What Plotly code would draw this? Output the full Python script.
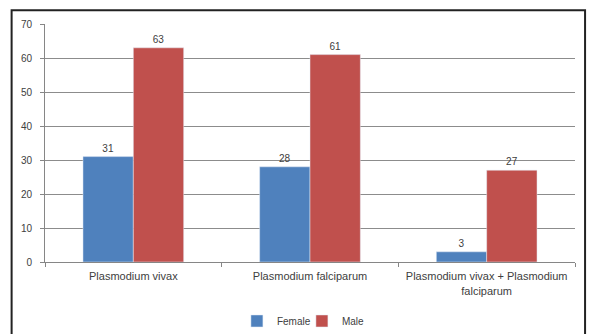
import plotly.graph_objects as go

categories = ["Plasmodium vivax", "Plasmodium falciparum", "Plasmodium vivax + Plasmodium<br>falciparum"]
female = [31, 28, 3]
male = [63, 61, 27]
y_ticks = [0, 10, 20, 30, 40, 50, 60, 70]

font = dict(family="Liberation Sans, Arial, sans-serif", size=10, color="#404040")

fig = go.Figure()
fig.add_trace(go.Bar(name="Female", x=categories, y=female, marker_color="#4F81BD",
                     text=female, textposition="outside", cliponaxis=False,
                     textfont=dict(size=10, color="#404040")))
fig.add_trace(go.Bar(name="Male", x=categories, y=male, marker_color="#C0504D",
                     text=male, textposition="outside", cliponaxis=False,
                     textfont=dict(size=10, color="#404040")))

fig.update_layout(
    width=592, height=334,
    margin=dict(l=45, r=17, t=24, b=72, autoexpand=False),
    barmode="group", bargap=0.43, bargroupgap=0,
    plot_bgcolor="white", paper_bgcolor="white",
    font=font,
    showlegend=True,
    legend=dict(orientation="h", x=0.51, xanchor="center", xref="container",
                y=0.039, yanchor="middle", yref="container",
                bgcolor="rgba(0,0,0,0)", entrywidth=20, entrywidthmode="pixels",
                font=dict(size=10, color="#404040"), itemwidth=30, traceorder="normal"),
    xaxis=dict(showline=True, linecolor="#868686", linewidth=1, ticks="outside",
               tickson="boundaries", ticklen=4, tickcolor="#868686",
               ticklabelstandoff=4,
               tickfont=dict(size=11, color="#404040"), automargin=False),
    yaxis=dict(range=[0, 70], tickvals=y_ticks, showgrid=True, gridcolor="#8C8C8C",
               gridwidth=1, showline=True, linecolor="#868686", ticks="outside",
               ticklen=4, tickcolor="#868686", zeroline=False, automargin=False,
               ticklabelstandoff=6,
               tickfont=dict(size=10, color="#404040")),
    shapes=[dict(type="rect", xref="paper", yref="paper",
                 x0=-0.063, x1=1.019, y0=-0.4, y1=1.058,
                 line=dict(color="#222222", width=2), layer="above")],
)

fig.write_html("out.html")
